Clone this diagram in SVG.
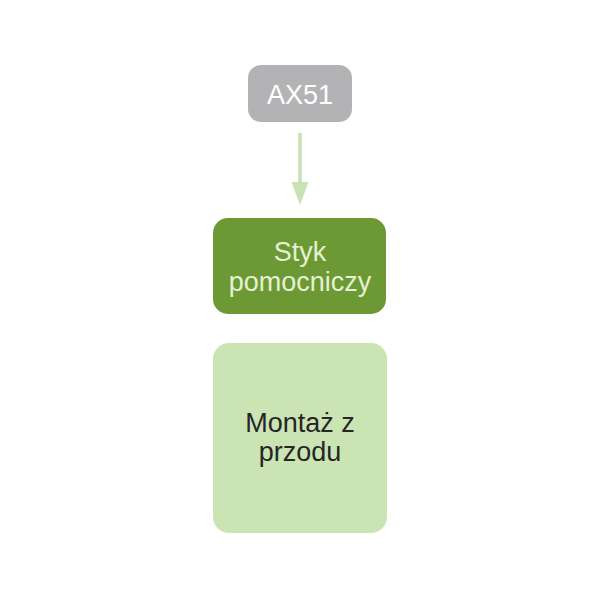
<svg xmlns="http://www.w3.org/2000/svg" width="600" height="600" viewBox="0 0 600 600">
<style>
text{font-family:"Liberation Sans",Arial,sans-serif;font-size:27px;text-anchor:middle}
</style>
<defs>
<marker id="ah" markerUnits="userSpaceOnUse" markerWidth="23" markerHeight="17" refX="23" refY="8.5" orient="auto" viewBox="0 0 23 17">
<path d="M0,0 L23,8.5 L0,17 Z" fill="#c9e2b5"/>
</marker>
</defs>
<rect width="600" height="600" fill="#ffffff"/>
<g id="connectors">
<path d="M300,133 V195" stroke="#c9e2b5" stroke-width="3.5" fill="none"/>
<path d="M300,190 V205" stroke="none" fill="none" marker-end="url(#ah)"/>
</g>
<g id="ax51">
<rect x="248" y="65" width="104" height="57" rx="13" fill="#b3b3b5"/>
<text x="300" y="104" fill="#ffffff" font-size="28">AX51</text>
</g>
<g id="styk">
<rect x="213" y="218" width="173" height="96" rx="15" fill="#6d9935"/>
<text x="300" y="261" fill="#e4f1d3">Styk</text>
<text x="300" y="291" fill="#e4f1d3">pomocniczy</text>
</g>
<g id="montaz">
<rect x="213" y="343" width="174" height="190" rx="16" fill="#cbe4b4"/>
<text x="300" y="432" fill="#262626">Montaż z</text>
<text x="300" y="461" fill="#262626">przodu</text>
</g>
</svg>
